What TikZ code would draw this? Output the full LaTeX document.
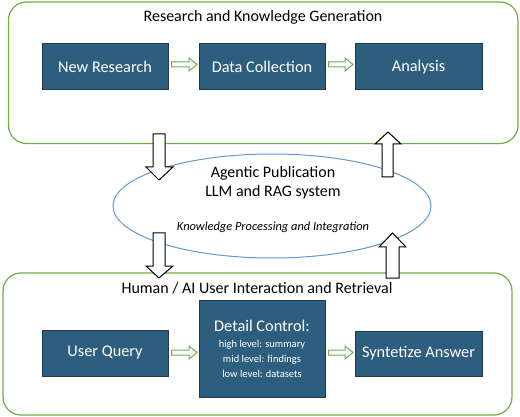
\documentclass[tikz,border=0pt]{standalone}
\usepackage{fontspec}
\setmainfont{Carlito}
\usetikzlibrary{positioning}
\definecolor{boxblue}{HTML}{2E5E7E}
\definecolor{boxedge}{HTML}{1E3B50}
\definecolor{grn}{HTML}{70AD47}
\definecolor{ellblue}{HTML}{5B9BD5}
\tikzset{
  container/.style={draw=grn, line width=1.2pt, rounded corners=18pt},
  bluebox/.style={draw=boxedge, line width=1pt, fill=boxblue, text=white, font=\fontsize{16.3}{18}\selectfont, align=center, inner sep=0pt},
  greenarrow/.style={draw=grn, line width=1pt, fill=white},
  blockarrow/.style={draw=black, line width=1pt, fill=white, line join=miter},
  title/.style={font=\fontsize{16}{18}\selectfont}
}
\begin{document}
\begin{tikzpicture}[x=1pt,y=-1pt]
\useasboundingbox (0,0) rectangle (520,417);
% containers
\draw[container] (8.5,2) rectangle (518,143.5);
\draw[container] (3,273) rectangle (512,415);
\node[title] (t1) at (263,17) {Research and Knowledge Generation};
\node[title] (t2) at (257,288) {Human / AI User Interaction and Retrieval};
% ellipse
\draw[ellblue, line width=1pt] (272,206) ellipse [x radius=159, y radius=52];
\node[font=\fontsize{16}{19}\selectfont, align=center] (ag) at (273,183) {Agentic Publication\\LLM and RAG system};
\node[font=\itshape\fontsize{12.4}{14}\selectfont] (kp) at (273,227) {Knowledge Processing and Integration};
% top boxes
\node[bluebox, minimum width=126pt, minimum height=46pt] (nr) at (105,67) {New Research};
\node[bluebox, minimum width=126pt, minimum height=46pt] (dc) at (262,67) {Data Collection};
\node[bluebox, minimum width=127pt, minimum height=46pt] (an) at (418.5,67) {Analysis};
% bottom boxes
\node[bluebox, minimum width=126pt, minimum height=46pt] (uq) at (105,353) {User Query};
\node[bluebox, minimum width=126pt, minimum height=97pt] (dt) at (262,348.5) {Detail Control:\\[-2pt]{\fontsize{10.5}{12}\selectfont high level: summary}\\[-3pt]{\fontsize{10.5}{12}\selectfont mid level: findings}\\[-3pt]{\fontsize{10.5}{12}\selectfont low level: datasets}};
\node[bluebox, minimum width=127pt, minimum height=45pt] (sa) at (418.5,353.5) {Syntetize Answer};
% green arrows
\foreach \a/\b/\y in {nr/dc/64.5, dc/an/64.5, uq/dt/352.5, dt/sa/352.5}{
  \path (\a.east) ++(3,0) coordinate (s);
  \path (\b.west) ++(-1.5,0) coordinate (e);
  \draw[greenarrow] (s |- 0,\y-2.5) -- ([xshift=-8]e |- 0,\y-2.5) -- ([xshift=-8]e |- 0,\y-6.5) -- (e |- 0,\y) -- ([xshift=-8]e |- 0,\y+6.5) -- ([xshift=-8]e |- 0,\y+2.5) -- (s |- 0,\y+2.5) -- cycle;
}
% block arrows
\draw[blockarrow] (153,134) -- (165,134) -- (165,167) -- (173,167) -- (159,180) -- (146,167) -- (153,167) -- cycle;
\draw[blockarrow] (153,233) -- (165,233) -- (165,266) -- (173,266) -- (159,278) -- (146,266) -- (153,266) -- cycle;
\draw[blockarrow] (382,177) -- (382,144) -- (375,144) -- (388,132) -- (401,144) -- (393,144) -- (393,177) -- cycle;
\draw[blockarrow] (386,278) -- (386,247) -- (379,247) -- (392.5,233) -- (406,247) -- (399,247) -- (399,278) -- cycle;
\end{tikzpicture}
\end{document}
